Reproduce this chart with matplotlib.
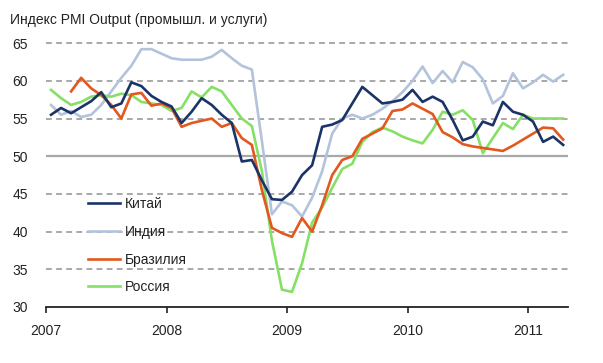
import numpy as np
import matplotlib
matplotlib.use("Agg")
import matplotlib.pyplot as plt

plt.rcParams['font.family'] = ['Liberation Sans', 'DejaVu Sans']

title = "Индекс PMI Output (промышл. и услуги)"
start_year = 2007
years = [2007, 2008, 2009, 2010, 2011]
yticks = [30, 35, 40, 45, 50, 55, 60, 65]

# Monthly values, Jan 2007 .. Apr 2011
china = [55.5, 56.4, 55.7, 56.5, 57.3, 58.5, 56.5, 57.0, 59.8, 59.3, 58.0, 57.2,
         56.6, 54.4, 55.9, 57.7, 56.8, 55.5, 54.4, 49.3, 49.5, 46.8, 44.3, 44.2,
         45.3, 47.5, 48.8, 53.9, 54.2, 54.8, 57.0, 59.2, 58.1, 57.0, 57.2, 57.5,
         58.8, 57.2, 57.9, 57.2, 54.8, 52.1, 52.6, 54.6, 54.1, 57.2, 55.9, 55.5,
         54.6, 51.9, 52.6, 51.5]
india = [56.8, 55.5, 56.0, 55.2, 55.5, 56.8, 58.6, 60.4, 62.0, 64.2, 64.2, 63.6,
         63.0, 62.8, 62.8, 62.8, 63.2, 64.1, 63.0, 62.0, 61.5, 52.0, 42.3, 44.0,
         43.5, 42.0, 44.5, 48.0, 53.0, 55.0, 55.5, 55.0, 55.5, 56.3, 57.3, 58.5,
         60.0, 61.9, 59.7, 61.3, 59.8, 62.5, 61.8, 60.2, 57.0, 58.0, 61.0, 59.0,
         59.8, 60.8, 59.9, 60.8]
brazil = [np.nan, np.nan, 58.6, 60.4, 59.0, 58.1, 56.8, 55.0, 58.2, 58.4, 56.7, 57.0,
          56.4, 53.9, 54.4, 54.7, 55.0, 53.9, 54.4, 52.4, 51.5, 45.5, 40.5, 39.8,
          39.3, 41.8, 40.0, 43.5, 47.5, 49.5, 50.0, 52.3, 53.0, 53.7, 56.0, 56.2,
          57.0, 56.3, 55.6, 53.2, 52.5, 51.6, 51.3, 51.1, 50.9, 50.7, 51.4, 52.2,
          53.0, 53.8, 53.7, 52.2]
russia = [58.8, 57.7, 56.8, 57.2, 57.9, 58.1, 57.9, 58.3, 58.1, 57.2, 57.0, 56.8,
          56.0, 56.4, 58.6, 57.8, 59.2, 58.6, 56.8, 55.0, 54.0, 48.0, 38.8, 32.3,
          32.0, 35.8, 41.2, 43.2, 45.8, 48.3, 49.0, 51.9, 53.2, 53.8, 53.3, 52.6,
          52.1, 51.7, 53.5, 55.9, 55.5, 56.1, 54.8, 50.4, 52.4, 54.4, 53.6, 55.5,
          55.0, 55.0, 55.0, 55.0]

series = [("Китай", china, "#1b3468", 1.9),
          ("Индия", india, "#b3c3dc", 1.9),
          ("Бразилия", brazil, "#e2581e", 1.9),
          ("Россия", russia, "#86e066", 1.9)]

n = len(china)
x = start_year + (np.arange(n) + 0.5) / 12.0

fig = plt.figure(figsize=(6.03, 3.63), dpi=100)
ax = fig.add_axes([46/603, 1-307/363, 522/603, (307-35.6)/363])

for v in yticks[1:]:
    if v == 50:
        ax.axhline(v, color="#a8a8a8", lw=1.6, zorder=1)
    else:
        ax.axhline(v, color="#a8a8a8", lw=1.4, ls=(0, (3, 2.2)), zorder=1)

handles = {}
for i in [1, 3, 2, 0]:
    name, vals, col, lw = series[i]
    h, = ax.plot(x, vals, color=col, lw=lw, label=name, zorder=3, solid_joinstyle='round')
    handles[i] = h

ax.set_xlim(2007, 2007 + 522/120.5)
ax.set_ylim(30, 66)
ax.set_xticks(years)
ax.set_xticklabels([str(y) for y in years], fontsize=10, color="#222222")
ax.set_yticks(yticks)
ax.set_yticklabels([str(v) for v in yticks], fontsize=10, color="#222222")
for s in ["top", "right", "left"]:
    ax.spines[s].set_visible(False)
ax.spines["bottom"].set_color("#222222")
ax.spines["bottom"].set_linewidth(1.3)
ax.tick_params(axis="x", direction="out", length=4, width=1.2, color="#222222", pad=8)
ax.tick_params(axis="y", length=0, pad=13)

leg = ax.legend([handles[i] for i in range(4)], [s[0] for s in series],
                loc="upper left", bbox_to_anchor=(0.08, 0.404), frameon=False,
                fontsize=10, handlelength=2.3, handletextpad=0.35,
                labelspacing=0.98, borderpad=0, borderaxespad=0)
for t in leg.get_texts():
    t.set_color("#222222")

fig.text(10/603, 1-20/363, title, fontsize=10, color="#222222", va="center", ha="left")

fig.savefig("out.png", dpi=100)
